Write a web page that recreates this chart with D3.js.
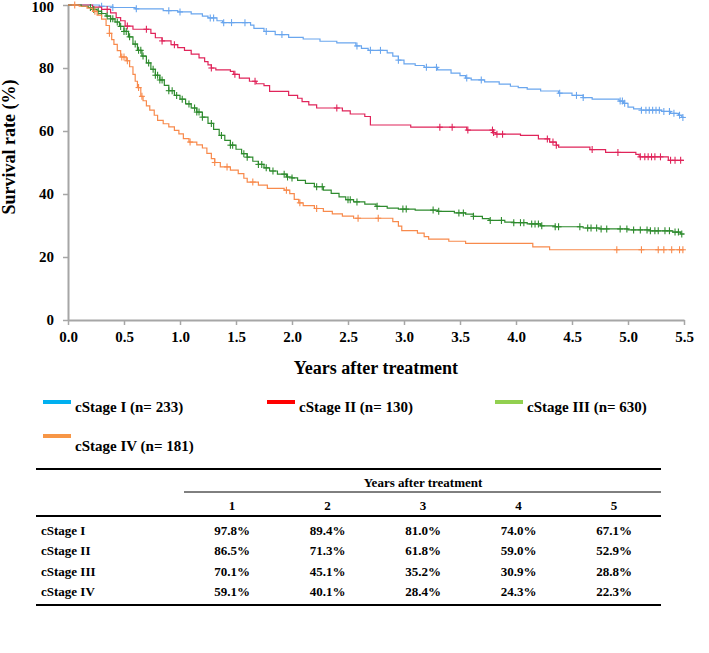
<!DOCTYPE html>
<html>
<head>
<meta charset="utf-8">
<script src="https://cdn.jsdelivr.net/npm/d3@7"></script>
<style>
  html, body { margin: 0; padding: 0; background: #fff; }
  svg { display: block; }
  text { font-family: "Liberation Serif", "Times New Roman", serif; font-weight: bold; fill: #000; }
</style>
</head>
<body>
<svg id="chart" width="709" height="653"></svg>
<script>
// ---------- DATA ----------
const stageNames = ["cStage I", "cStage II", "cStage III", "cStage IV"];
const stageN = [233, 130, 630, 181];

// Kaplan-Meier steps: [time in years, survival % after the step]
const stepsStageI = [[0,100],[0.28,99.6],[0.4,99.2],[0.6,98.8],[0.85,98.2],[0.98,97.8],[1.1,97.2],[1.2,96.5],[1.25,95.9],[1.33,95.0],[1.38,94.4],[1.63,93.6],[1.66,92.6],[1.75,91.6],[1.85,90.6],[1.97,89.7],[2.1,89.2],[2.25,88.5],[2.4,88.0],[2.57,87.0],[2.62,86.2],[2.68,85.6],[2.85,84.8],[2.9,83.8],[2.95,82.5],[3.0,81.3],[3.1,80.8],[3.18,80.2],[3.3,79.4],[3.42,78.4],[3.5,77.6],[3.55,76.8],[3.6,76.2],[3.72,75.6],[3.85,74.9],[3.95,74.2],[4.02,73.8],[4.1,73.3],[4.22,72.7],[4.38,72.0],[4.5,71.3],[4.6,70.6],[4.68,70.1],[4.92,69.5],[4.96,68.8],[5.0,67.6],[5.05,67.0],[5.12,66.6],[5.3,66.2],[5.38,65.6],[5.45,65.0],[5.48,64.3]];
const stepsStageII = [[0,100],[0.22,99.3],[0.3,98.6],[0.38,97.5],[0.43,96.0],[0.47,95.0],[0.51,93.3],[0.58,92.3],[0.74,91.0],[0.78,89.6],[0.84,88.6],[0.92,87.4],[0.98,86.5],[1.04,85.6],[1.1,84.4],[1.17,83.2],[1.22,82.0],[1.25,81.0],[1.28,80.0],[1.32,79.4],[1.45,78.9],[1.48,78.0],[1.53,76.8],[1.62,75.8],[1.68,75.0],[1.75,74.4],[1.8,72.6],[1.97,71.3],[2.05,70.4],[2.09,69.3],[2.15,68.3],[2.22,67.3],[2.45,66.4],[2.52,65.4],[2.65,64.6],[2.7,61.9],[3.06,61.2],[3.56,60.3],[3.8,59.5],[3.82,59.0],[4.04,58.6],[4.2,57.5],[4.3,56.5],[4.36,55.5],[4.38,54.9],[4.66,54.1],[4.8,53.2],[5.07,52.6],[5.1,51.8],[5.36,50.7]];
const stepsStageIII = [[0,100],[0.12,99.6],[0.18,99.2],[0.22,98.6],[0.26,98.0],[0.3,97.3],[0.34,96.5],[0.38,95.6],[0.42,94.6],[0.46,93.2],[0.5,91.6],[0.54,89.9],[0.58,87.6],[0.62,85.6],[0.66,83.8],[0.7,81.6],[0.74,79.6],[0.78,77.7],[0.82,76.2],[0.86,74.5],[0.9,72.8],[0.95,71.3],[1.0,70.1],[1.05,68.6],[1.1,67.3],[1.15,66.0],[1.2,64.4],[1.25,62.4],[1.3,60.5],[1.35,58.6],[1.4,57.0],[1.45,55.5],[1.5,54.2],[1.55,52.8],[1.6,51.7],[1.65,50.4],[1.7,49.4],[1.75,48.3],[1.8,47.3],[1.87,46.3],[1.95,45.4],[2.0,45.1],[2.05,44.3],[2.12,43.4],[2.2,42.3],[2.28,41.2],[2.35,40.2],[2.42,39.1],[2.48,38.2],[2.55,37.5],[2.65,36.8],[2.75,36.1],[2.85,35.5],[2.95,35.2],[3.1,34.9],[3.3,34.5],[3.45,34.0],[3.55,33.6],[3.62,32.9],[3.7,32.2],[3.76,31.6],[3.9,31.1],[3.98,30.9],[4.1,30.5],[4.22,29.9],[4.35,29.6],[4.6,29.2],[4.75,28.9],[5.0,28.6],[5.2,28.3],[5.4,27.9],[5.47,27.3]];
const stepsStageIV = [[0,100],[0.1,99.6],[0.17,99.0],[0.22,98.0],[0.26,96.8],[0.3,95.5],[0.34,93.5],[0.37,91.0],[0.39,89.0],[0.41,87.5],[0.44,85.5],[0.47,83.5],[0.52,82.3],[0.55,80.4],[0.58,78.0],[0.6,75.8],[0.62,73.8],[0.65,71.0],[0.67,69.6],[0.7,68.0],[0.73,66.6],[0.77,65.0],[0.8,63.4],[0.85,62.3],[0.9,61.3],[0.95,60.2],[0.99,59.1],[1.03,57.6],[1.08,56.5],[1.15,55.6],[1.2,54.6],[1.24,52.9],[1.28,51.2],[1.31,50.0],[1.36,48.6],[1.45,47.6],[1.52,46.5],[1.57,45.0],[1.6,43.8],[1.7,42.8],[1.78,41.8],[1.93,41.2],[1.98,40.1],[2.02,38.3],[2.06,37.2],[2.1,36.3],[2.2,35.4],[2.28,34.5],[2.36,33.7],[2.45,33.0],[2.55,32.3],[2.9,31.2],[2.95,29.8],[2.98,28.4],[3.12,27.6],[3.18,26.5],[3.22,25.7],[3.4,25.0],[3.55,24.3],[4.15,23.2],[4.3,22.3]];

// Censoring times (years)
const censorStageI = [0.3,0.4,0.61,0.9,1.0,1.27,1.3,1.39,1.46,1.58,1.77,1.91,2.58,2.7,2.79,2.95,3.2,3.29,3.56,3.69,4.39,4.54,4.6,4.93,4.95,4.97,5.12,5.16,5.19,5.22,5.25,5.28,5.32,5.37,5.41,5.46,5.49];
const censorStageII = [0.35,0.53,0.7,0.84,0.95,1.28,1.49,1.67,2.4,3.32,3.43,3.57,3.79,3.8,3.83,3.88,4.28,4.33,4.36,4.68,4.91,5.11,5.15,5.18,5.21,5.24,5.29,5.38,5.42,5.47];
const censorStageIII = [0.2,0.23,0.27,0.3,0.35,0.38,0.4,0.44,0.47,0.5,0.52,0.55,0.6,0.63,0.65,0.67,0.72,0.76,0.78,0.8,0.82,0.84,0.9,0.93,0.97,1.02,1.08,1.13,1.15,1.17,1.2,1.28,1.37,1.45,1.47,1.57,1.6,1.7,1.73,1.77,1.83,1.93,1.96,2.0,2.22,2.27,2.5,2.52,2.58,2.76,2.99,3.02,3.26,3.31,3.49,3.53,3.62,3.77,3.87,3.98,4.04,4.07,4.14,4.17,4.2,4.23,4.35,4.38,4.57,4.64,4.67,4.72,4.76,4.81,4.93,4.99,5.05,5.11,5.17,5.2,5.24,5.27,5.33,5.37,5.42,5.45,5.48];
const censorStageIV = [0.06,0.24,0.37,0.48,0.5,0.53,0.63,0.66,1.09,1.31,1.42,1.65,1.95,2.07,2.22,2.59,2.77,4.9,5.12,5.27,5.32,5.39,5.46,5.49];

const curveColors = ["#6aa6ee", "#e0245a", "#2e8b2e", "#f88a4c"];
const legendColors = ["#00b0f0", "#ff0000", "#92d050", "#f79646"];

const xTicks = [0, 0.5, 1, 1.5, 2, 2.5, 3, 3.5, 4, 4.5, 5, 5.5];
const yTicks = [0, 20, 40, 60, 80, 100];

const tableYears = [1, 2, 3, 4, 5];
const tableStageI = ["97.8%", "89.4%", "81.0%", "74.0%", "67.1%"];
const tableStageII = ["86.5%", "71.3%", "61.8%", "59.0%", "52.9%"];
const tableStageIII = ["70.1%", "45.1%", "35.2%", "30.9%", "28.8%"];
const tableStageIV = ["59.1%", "40.1%", "28.4%", "24.3%", "22.3%"];

// ---------- CHART ----------
const svg = d3.select("#chart");
const x = d3.scaleLinear().domain([0, 5.5]).range([68, 684]);
const y = d3.scaleLinear().domain([0, 100]).range([320, 5]);
const tMax = 5.5;

const allSteps = [stepsStageI, stepsStageII, stepsStageIII, stepsStageIV];
const allCensor = [censorStageI, censorStageII, censorStageIII, censorStageIV];

// axes
const gx = svg.append("g").attr("transform", `translate(0,${y(0)})`)
  .call(d3.axisBottom(x).tickValues(xTicks).tickFormat(d3.format(".1f")).tickSize(5).tickSizeOuter(0));
const gy = svg.append("g").attr("transform", `translate(${x(0)},0)`)
  .call(d3.axisLeft(y).tickValues(yTicks).tickSize(5).tickSizeOuter(0));
[gx, gy].forEach(g => {
  g.select(".domain").attr("stroke", "#a6a6a6").attr("stroke-width", 2);
  g.selectAll(".tick line").attr("stroke", "#a6a6a6").attr("stroke-width", 1.5);
  g.selectAll(".tick text").style("font-family", '"Liberation Serif", serif').style("font-weight", "bold").style("font-size", "15px").attr("fill", "#000");
});
gx.selectAll(".tick text").attr("dy", "0.9em").attr("y", 8);
gy.selectAll(".tick text").attr("x", -14);
gy.selectAll(".tick text").filter(d => d === 100).attr("dy", "0.45em");

// curves
function survAt(steps, t) {
  let s = steps[0][1];
  for (const p of steps) { if (p[0] <= t) s = p[1]; else break; }
  return s;
}
const stepLine = d3.line().x(d => x(d[0])).y(d => y(d[1])).curve(d3.curveStepAfter);

allSteps.forEach((steps, i) => {
  const pts = steps.concat([[tMax, steps[steps.length - 1][1]]]);
  svg.append("path").attr("d", stepLine(pts)).attr("fill", "none")
    .attr("stroke", curveColors[i]).attr("stroke-width", 1.2);
  const g = svg.append("g").attr("stroke", curveColors[i]).attr("stroke-width", 1.1);
  allCensor[i].forEach(t => {
    const cx = x(t), cy = y(survAt(steps, t));
    g.append("line").attr("x1", cx - 3).attr("x2", cx + 3).attr("y1", cy).attr("y2", cy);
    g.append("line").attr("x1", cx).attr("x2", cx).attr("y1", cy - 3.5).attr("y2", cy + 3.5);
  });
});

// axis titles
svg.append("text").attr("transform", `translate(15,147) rotate(-90)`)
  .attr("text-anchor", "middle").style("font-size", "18px").text("Survival rate (%)");
svg.append("text").attr("x", 376).attr("y", 374).attr("text-anchor", "middle")
  .style("font-size", "18px").text("Years after treatment");

// legend
const legendPos = [[43, 402, 10], [267, 402, 10], [495, 402, 10], [43, 436, 15]];
stageNames.forEach((name, i) => {
  const [lx, ly, dy] = legendPos[i];
  svg.append("line").attr("x1", lx).attr("x2", lx + 28).attr("y1", ly).attr("y2", ly)
    .attr("stroke", legendColors[i]).attr("stroke-width", 4);
  svg.append("text").attr("x", lx + 32).attr("y", ly + dy)
    .style("font-size", "15px").text(`${name} (n= ${stageN[i]})`);
});

// table
const tableRows = [tableStageI, tableStageII, tableStageIII, tableStageIV];
const colX = d3.scalePoint().domain(tableYears).range([232, 614]);
const tLeft = 36, tRight = 661;
svg.append("line").attr("x1", tLeft).attr("x2", tRight).attr("y1", 469).attr("y2", 469).attr("stroke", "#000").attr("stroke-width", 2);
svg.append("line").attr("x1", 184).attr("x2", tRight).attr("y1", 492).attr("y2", 492).attr("stroke", "#000").attr("stroke-width", 1);
svg.append("line").attr("x1", tLeft).attr("x2", tRight).attr("y1", 516).attr("y2", 516).attr("stroke", "#000").attr("stroke-width", 2);
svg.append("line").attr("x1", tLeft).attr("x2", tRight).attr("y1", 605).attr("y2", 605).attr("stroke", "#000").attr("stroke-width", 2);
svg.append("text").attr("x", 423).attr("y", 487).attr("text-anchor", "middle").style("font-size", "13px").text("Years after treatment");
tableYears.forEach(yr => {
  svg.append("text").attr("x", colX(yr)).attr("y", 510).attr("text-anchor", "middle").style("font-size", "13px").text(yr);
});
const rowY = d3.scalePoint().domain(stageNames).range([535, 596]);
tableRows.forEach((row, i) => {
  svg.append("text").attr("x", 41).attr("y", rowY(stageNames[i])).style("font-size", "13px").text(stageNames[i]);
  row.forEach((v, j) => {
    svg.append("text").attr("x", colX(tableYears[j])).attr("y", rowY(stageNames[i])).attr("text-anchor", "middle").style("font-size", "13px").text(v);
  });
});
</script>
</body>
</html>
